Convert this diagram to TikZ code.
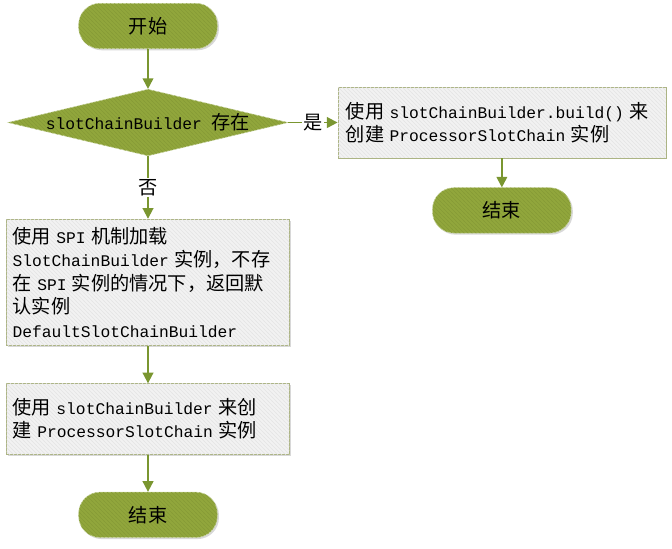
\documentclass[tikz,border=0pt]{standalone}
\usepackage{fontspec}
\setmainfont{Liberation Mono}
\newfontfamily\cjk[Scale=1.18]{Noto Sans CJK SC}
\newcommand{\zh}[1]{{\cjk #1}}
\usetikzlibrary{arrows.meta,positioning,shapes.geometric,patterns,shadows}
\definecolor{flowOlive}{RGB}{145,166,60}
\definecolor{flowHatch}{RGB}{134,154,54}
\definecolor{flowRim}{RGB}{200,212,160}
\definecolor{flowArrow}{RGB}{122,150,48}
\definecolor{boxFill}{RGB}{242,242,242}
\definecolor{boxHatch}{RGB}{228,228,228}
\definecolor{boxEdge}{RGB}{172,180,132}
\tikzset{
  termbox/.style={
    rectangle, rounded corners=16pt, draw=flowRim, thin,
    fill=flowOlive, text=black, align=center,
    minimum width=104pt, minimum height=34pt,
    drop shadow={shadow xshift=1.2pt, shadow yshift=-1.2pt, fill=black!30, opacity=.5},
    postaction={pattern=north west lines, pattern color=flowHatch}},
  decbox/.style={
    diamond, aspect=4.2, inner sep=0pt, draw=flowRim, thin,
    fill=flowOlive, text=black,
    minimum width=210pt, minimum height=50pt,
    postaction={pattern=north west lines, pattern color=flowHatch}},
  procbox/.style={
    rectangle, draw=boxEdge, thin, fill=boxFill, text=black,
    align=left, inner xsep=4.5pt,
    drop shadow={shadow xshift=1.2pt, shadow yshift=-1.2pt, fill=black!30, opacity=.5},
    postaction={pattern=north west lines, pattern color=boxHatch}},
  arrowline/.style={-{Triangle[length=8pt,width=8pt]}, line width=1.4pt, draw=flowArrow},
  lbl/.style={fill=white, inner sep=1pt, text=black}
}

\begin{document}
\begin{tikzpicture}[font=\fontsize{12.2}{17.6}\selectfont]

    \useasboundingbox (0,0) rectangle (504pt,-411.75pt);

    % ---- left column -------------------------------------------
    \node[termbox] (start) at (111pt,-19.5pt) {\zh{开始}};
    \node[decbox, below=30pt of start] (check) {slotChainBuilder~\zh{存在}};
    \node[procbox, below=47pt of check, text width=203pt, minimum height=95pt] (spi)
      {\zh{使用}~SPI~\zh{机制加载}\\
       SlotChainBuilder~\zh{实例，不存}\\
       \zh{在}~SPI~\zh{实例的情况下，返回默}\\
       \zh{认实例}\\
       DefaultSlotChainBuilder};
    \node[procbox, below=28pt of spi, text width=203pt, minimum height=53pt] (create)
      {\zh{使用}~slotChainBuilder~\zh{来创}\\
       \zh{建}~ProcessorSlotChain~\zh{实例}};
    \node[termbox, below=28pt of create] (stop) {\zh{结束}};

    \draw[arrowline] (start)  -- (check);
    \draw[arrowline] (check)  -- node[lbl] {\zh{否}} (spi);
    \draw[arrowline] (spi)    -- (create);
    \draw[arrowline] (create) -- (stop);

    % ---- right column ------------------------------------------
    \node[procbox, right=37pt of check, inner xsep=6pt, text width=234pt, minimum height=53pt] (build)
      {\zh{使用}~slotChainBuilder.build()~\zh{来}\\
       \zh{创建}~ProcessorSlotChain~\zh{实例}};
    \node[termbox, below=22pt of build] (stopr) {\zh{结束}};

    \draw[arrowline] (check) -- node[lbl] {\zh{是}} (build);
    \draw[arrowline] (build) -- (stopr);

\end{tikzpicture}
\end{document}
